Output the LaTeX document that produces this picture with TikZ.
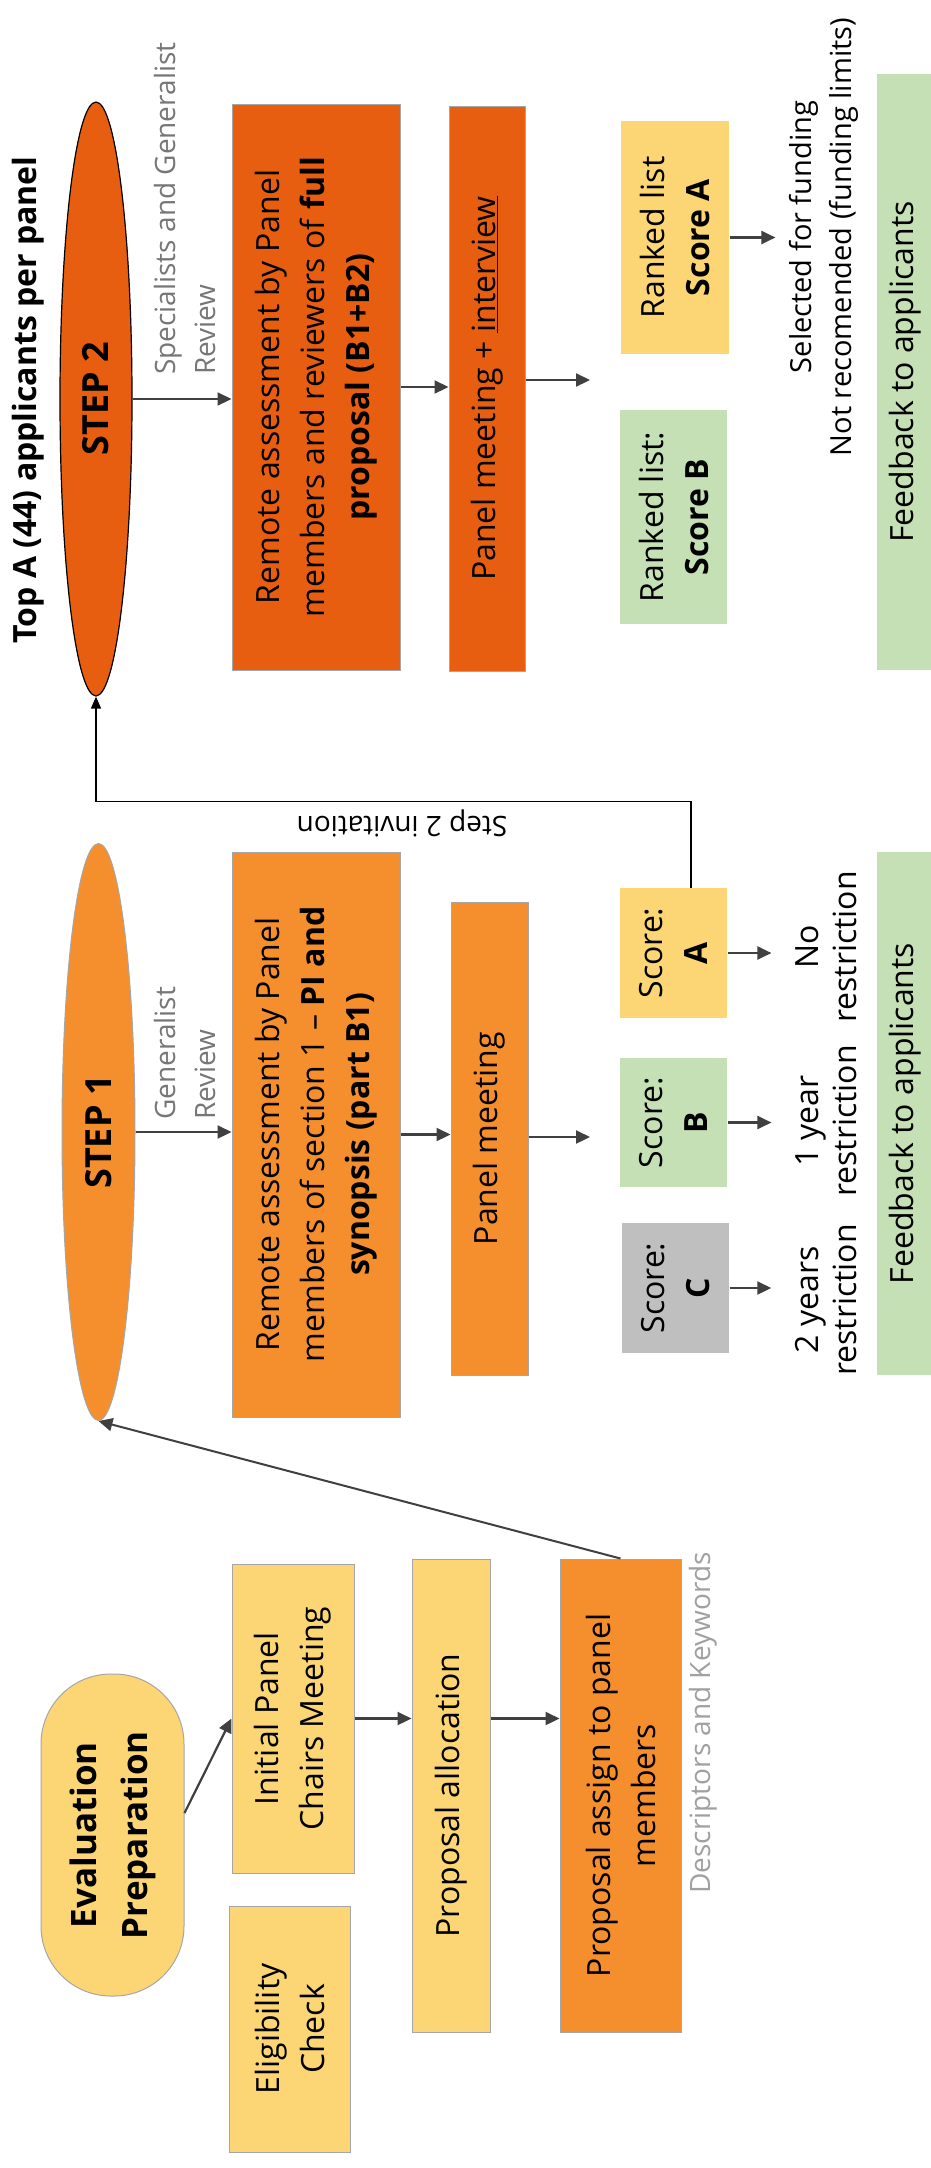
\documentclass[tikz,border=0pt]{standalone}
\usepackage{fontspec}
\setmainfont{Open Sans}
\usetikzlibrary{shapes.geometric, arrows.meta, calc}

\definecolor{prepyellow}{RGB}{252,213,117}
\definecolor{stepone}{RGB}{245,143,46}
\definecolor{steptwo}{RGB}{232,94,16}
\definecolor{scoregreen}{RGB}{197,224,180}
\definecolor{scoregrey}{RGB}{191,191,191}
\definecolor{boxline}{RGB}{166,166,166}
\definecolor{arrowgrey}{RGB}{64,64,64}
\definecolor{notegrey}{RGB}{118,118,118}
\definecolor{lightnote}{RGB}{160,160,160}

\begin{document}
\begin{tikzpicture}[x=1pt, y=-1pt,
    box/.style={rectangle, rotate=90, draw=boxline, line width=1pt, inner sep=0pt, align=center, font=\fontsize{32}{45}\selectfont},
    stepnode/.style={ellipse, rotate=90, inner sep=0pt, font=\bfseries\fontsize{36}{43}\selectfont},
    txt/.style={rotate=90, inner sep=0pt, align=center, font=\fontsize{32}{38}\selectfont},
    note/.style={rotate=90, inner sep=0pt, align=left, text=notegrey, font=\fontsize{28}{40}\selectfont},
    arr/.style={draw=arrowgrey, line width=2.2pt, -{Triangle[length=14pt,width=13pt]}}]
    \path[fill=white] (0,0) rectangle (931,2168);
    \useasboundingbox (0,0) rectangle (931,2168);

    % Step 2
    \node[rotate=90, inner sep=0pt, font=\bfseries\fontsize{32}{38}\selectfont] (title) at (28,400) {Top A (44) applicants per panel};
    \node[stepnode, fill=steptwo, draw=black, line width=1.2pt, minimum width=594, minimum height=72] (step2) at (96,399) {STEP 2};
    \node[note, anchor=west] (spec) at (185,375) {Specialists and Generalist\\Review};
    \node[box, fill=steptwo, minimum width=566, minimum height=168] (rem2) at (316,387) {Remote assessment by Panel\\members and reviewers of \textbf{full}\\\textbf{proposal (B1+B2)}};
    \node[box, fill=steptwo, minimum width=565, minimum height=76] (pan2) at (487,388.5) {Panel meeting + \underline{interview}};
    \node[box, draw=none, fill=prepyellow, minimum width=233, minimum height=108] (rankA) at (675,237.5) {Ranked list\\\textbf{Score A}};
    \node[box, draw=none, fill=scoregreen, minimum width=214, minimum height=107] (rankB) at (673.5,517) {Ranked list:\\\textbf{Score B}};
    \node[txt, outer sep=14pt, font=\fontsize{29}{40}\selectfont] (sel) at (824,237) {Selected for funding\\Not recomended (funding limits)};
    \node[box, draw=none, fill=scoregreen, minimum width=596, minimum height=56] (fb2) at (905,372) {Feedback to applicants};

    % Step 1
    \node[stepnode, fill=stepone, draw=boxline, line width=1pt, minimum width=577, minimum height=73] (step1) at (98.5,1132) {STEP 1};
    \node[note, anchor=west] (gen) at (185,1120) {Generalist\\Review};
    \node[box, fill=stepone, minimum width=565, minimum height=168] (rem1) at (316,1134.5) {Remote assessment by Panel\\members of section 1 -- \textbf{PI and}\\\textbf{synopsis (part B1)}};
    \node[box, fill=stepone, minimum width=473, minimum height=77] (pan1) at (489.5,1138.5) {Panel meeting};
    \node[box, draw=none, fill=prepyellow, minimum width=130, minimum height=107] (scA) at (673.5,953) {Score:\\\textbf{A}};
    \node[box, draw=none, fill=scoregreen, minimum width=129, minimum height=107] (scB) at (673.5,1122.5) {Score:\\\textbf{B}};
    \node[box, draw=none, fill=scoregrey, minimum width=130, minimum height=107] (scC) at (675.5,1288) {Score:\\\textbf{C}};
    \node[txt, outer sep=24pt] (resA) at (826,947) {No\\restriction};
    \node[txt, outer sep=24pt] (resB) at (826,1121) {1 year\\restriction};
    \node[txt, outer sep=24pt] (resC) at (826,1300) {2 years\\restriction};
    \node[box, draw=none, fill=scoregreen, minimum width=523, minimum height=56] (fb1) at (905,1113.5) {Feedback to applicants};
    \node[rotate=180, inner sep=0pt, font=\fontsize{28}{34}\selectfont] (inv) at (402,823) {Step 2 invitation};

    % Evaluation preparation
    \node[box, rounded corners=70pt, fill=prepyellow, minimum width=322, minimum height=143, font=\bfseries\fontsize{35}{51}\selectfont] (prep) at (112.5,1835) {Evaluation\\Preparation};
    \node[box, fill=prepyellow, minimum width=309, minimum height=122] (init) at (293,1718.5) {Initial Panel\\Chairs Meeting};
    \node[box, fill=prepyellow, minimum width=246, minimum height=121] (elig) at (289.5,2029) {Eligibility\\Check};
    \node[box, fill=prepyellow, minimum width=473, minimum height=78] (alloc) at (451,1795.5) {Proposal allocation};
    \node[box, fill=stepone, minimum width=473, minimum height=121] (assign) at (620.5,1795.5) {Proposal assign to panel\\members};
    \node[note, text=lightnote] (desc) at (703,1723) {Descriptors and Keywords};

    % Connectors
    \coordinate (out2) at (590,380);
    \coordinate (out1) at (590,1137);
    \draw[arr] (step2.south) -- (step2.south -| rem2.north);
    \draw[arr] (rem2.south) -- (rem2.south -| pan2.north);
    \draw[arr] (pan2.south |- out2) -- (out2);
    \draw[arr] (rankA.south) -- (rankA.south -| sel.north);
    \draw[arr] (step1.south) -- (step1.south -| rem1.north);
    \draw[arr] (rem1.south) -- (rem1.south -| pan1.north);
    \draw[arr] (pan1.south |- out1) -- (out1);
    \draw[arr] (scA.south) -- (scA.south -| resA.north);
    \draw[arr] (scB.south) -- (scB.south -| resB.north);
    \draw[arr] (scC.south) -- (scC.south -| resC.north);
    \draw[line width=1.5pt, -{Triangle[length=12pt,width=10pt]}] ([xshift=17.5pt]scA.east) -- ++(0,-86) -| (step2.west);
    \draw[arr] ([yshift=22pt]prep.south) -- (init.north);
    \draw[arr] (init.south) -- (init.south -| alloc.north);
    \draw[arr] (alloc.south |- init.south) -- (init.south -| assign.north);
    \draw[arr, line width=2pt] (assign.east) -- (step1.west);
\end{tikzpicture}
\end{document}
